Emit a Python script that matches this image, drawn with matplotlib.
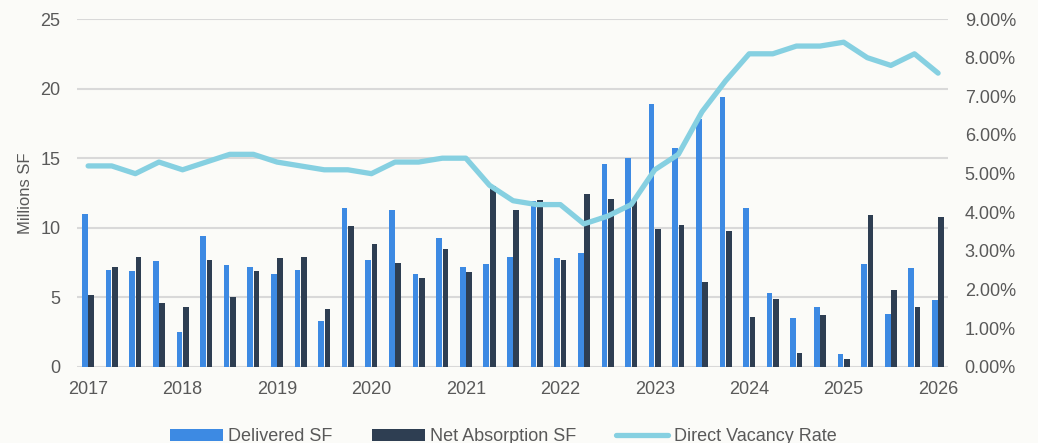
import numpy as np
import matplotlib
matplotlib.use("Agg")
import matplotlib.pyplot as plt
from matplotlib.ticker import FuncFormatter

# quarterly series, 2017 Q1 through 2026 Q1
years = [str(y) for y in range(2017, 2027)]
delivered = [11.0, 7.0, 6.9, 7.6, 2.5, 9.4, 7.3, 7.2, 6.7, 7.0, 3.3, 11.4,
             7.7, 11.3, 6.7, 9.3, 7.2, 7.4, 7.9, 11.9, 7.8, 8.2, 14.6, 15.0,
             18.9, 15.7, 17.8, 19.4, 11.4, 5.3, 3.5, 4.3, 0.9, 7.4, 3.8, 7.1,
             4.8]
net_absorption = [5.2, 7.2, 7.9, 4.6, 4.3, 7.7, 5.0, 6.9, 7.8, 7.9, 4.2, 10.1,
                  8.8, 7.5, 6.4, 8.5, 6.8, 13.0, 11.3, 12.0, 7.7, 12.4, 12.1, 11.9,
                  9.9, 10.2, 6.1, 9.8, 3.6, 4.9, 1.0, 3.7, 0.6, 10.9, 5.5, 4.3,
                  10.8]
vacancy = [5.2, 5.2, 5.0, 5.3, 5.1, 5.3, 5.5, 5.5, 5.3, 5.2, 5.1, 5.1,
           5.0, 5.3, 5.3, 5.4, 5.4, 4.7, 4.3, 4.2, 4.2, 3.7, 3.9, 4.2,
           5.1, 5.5, 6.6, 7.4, 8.1, 8.1, 8.3, 8.3, 8.4, 8.0, 7.8, 8.1,
           7.6]

BLUE = "#3d8ae3"
NAVY = "#2e3e52"
CYAN = "#86d0e1"
TEXT = "#595959"
BG = "#fbfbf8"

plt.rcParams["font.family"] = ["Liberation Sans", "DejaVu Sans"]

fig = plt.figure(figsize=(10.38, 4.43), dpi=100, facecolor=BG)
ax = fig.add_axes([0.0742, 0.1716, 0.8391, 0.7855])
ax.set_facecolor(BG)

x = np.arange(len(delivered))
w = 0.24
ax.bar(x - 0.135, delivered, w, color=BLUE, label="Delivered SF", zorder=2)
ax.bar(x + 0.135, net_absorption, w, color=NAVY, label="Net Absorption SF", zorder=2)

ax.set_ylim(0, 25)
ax.set_yticks(range(0, 26, 5))
ax.set_xlim(-0.47, 36.42)
ax.set_xticks(x[::4])
ax.set_xticklabels(years)
ax.grid(axis="y", color="#d9d9d9", linewidth=1.5, zorder=0)
ax.set_axisbelow(True)
ax.tick_params(axis="both", length=0, labelsize=13, labelcolor=TEXT)
ax.tick_params(axis="y", pad=12)
ax.tick_params(axis="x", pad=10)
ax.set_ylabel("Millions SF", fontsize=12, color=TEXT, labelpad=5)
for s in ax.spines.values():
    s.set_visible(False)

ax2 = ax.twinx()
ax2.plot(x, vacancy, color=CYAN, linewidth=3.8, solid_capstyle="round",
         label="Direct Vacancy Rate", zorder=3)
ax2.set_ylim(0, 9)
ax2.set_yticks(range(0, 10))
ax2.yaxis.set_major_formatter(FuncFormatter(lambda v, p: f"{v:.2f}%"))
ax2.tick_params(axis="y", length=0, labelsize=13, labelcolor=TEXT, pad=12)
for s in ax2.spines.values():
    s.set_visible(False)

h1, l1 = ax.get_legend_handles_labels()
h2, l2 = ax2.get_legend_handles_labels()
fig.legend(h1 + h2, l1 + l2, loc="center", bbox_to_anchor=(0.485, 0.014),
           ncol=3, frameon=False, fontsize=13, labelcolor=TEXT,
           handlelength=2.9, handleheight=0.7, handletextpad=0.3,
           columnspacing=2.2)

fig.savefig("out.png", dpi=100, facecolor=BG)
